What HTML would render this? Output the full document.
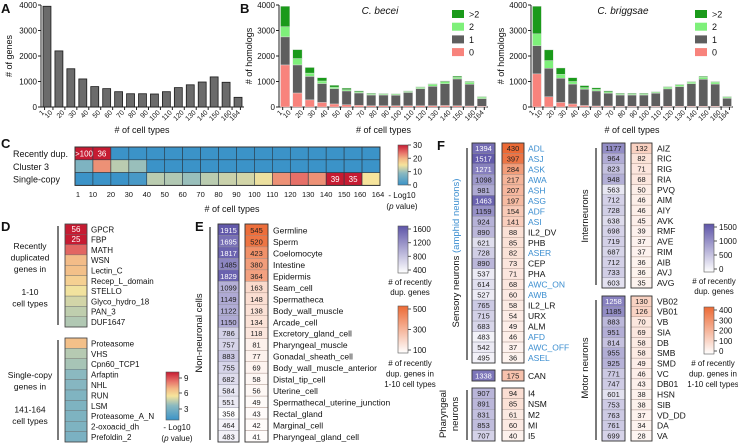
<!DOCTYPE html>
<html><head><meta charset="utf-8">
<style>
html,body{margin:0;padding:0;background:#fff}
svg{display:block;font-family:"Liberation Sans",Arial,sans-serif}
</style></head>
<body>
<svg id="fig" width="738" height="444" viewBox="0 0 738 444" xmlns="http://www.w3.org/2000/svg">
<defs>
<linearGradient id="gRdBu" x1="0" y1="1" x2="0" y2="0">
<stop offset="0" stop-color="#3b93c8"/><stop offset="0.3" stop-color="#8bb9c0"/><stop offset="0.5" stop-color="#f6e49c"/><stop offset="0.65" stop-color="#f3b986"/><stop offset="0.8" stop-color="#e8756b"/><stop offset="1" stop-color="#c61b32"/>
</linearGradient>
<linearGradient id="gPur" x1="0" y1="1" x2="0" y2="0"><stop offset="0" stop-color="#ffffff"/><stop offset="1" stop-color="#5e55a8"/></linearGradient>
<linearGradient id="gOra" x1="0" y1="1" x2="0" y2="0"><stop offset="0" stop-color="#ffffff"/><stop offset="1" stop-color="#ec6a35"/></linearGradient>
</defs>
<g id="root"></g>
</svg>
<script>
// ---- data ----
const cellTypeLabels = ["1","10","20","30","40","50","60","70","80","90","100","110","120","130","140","150","160","164"];
const barCats = ["1","10","20","30","40","50","60","70","80","90","100","110","120","130","140","150","160","164"];
const genesA = [3950,2200,1500,1100,800,720,600,520,520,510,600,760,870,980,1180,970,380];
const beceiZero = [1650,550,280,180,120,90,70,50,50,50,50,50,50,60,50,40,30];
const beceiOne  = [1100,1100,920,740,600,540,480,420,420,410,520,670,760,850,1050,850,300];
const beceiTwo  = [400,250,130,100,60,50,40,40,40,40,40,50,80,80,60,80,60];
const beceiMore = [800,350,220,130,70,60,40,30,20,20,20,20,20,30,50,30,20];
const brigZero = [1300,400,180,120,60,40,40,30,30,30,30,30,30,30,30,30,20];
const brigOne  = [1100,1120,950,780,640,590,500,440,440,440,510,680,770,880,1060,870,320];
const brigTwo  = [470,300,150,100,60,60,50,40,40,40,40,70,70,70,80,80,50];
const brigMore = [1080,420,250,150,80,60,40,30,30,30,20,20,20,20,30,20,20];
const yTicksA = [0,1000,2000,3000,4000];
const cRows = ["Recently dup.","Cluster 3","Single-copy"];
const cRecent = [99,36,0,0,0,0,0,0,0,0,0,0,0,0,0,0,0];
const cCluster = [2.5,7.5,4,3.3,0,0,0,0,0,0,0,0,0,0,0,0,0];
const cSingle = [0,0,0,0.5,4,3.8,3.3,4,4.3,4.5,5,7.5,8.3,7.5,39,35,5.2];
const cLabelsRecent = [">100","36","","","","","","","","","","","","","","",""];
const cLabelsSingle = ["","","","","","","","","","","","","","","39","35",""];
const dTop = ["GPCR","FBP","MATH","WSN","Lectin_C","Recep_L_domain","STELLO","Glyco_hydro_18","PAN_3","DUF1647"];
const dTopVal = [56,25,8.5,6.4,6.3,5.8,5.1,4.5,4.1,3.8];
const dBot = ["Proteasome","VHS","Cpn60_TCP1","Arfaptin","NHL","RUN","LSM","Proteasome_A_N","2-oxoacid_dh","Prefoldin_2"];
const dBotVal = [6.3,3.9,3.6,3.0,2.8,2.6,2.5,2.5,2.5,2.4];
const eNames = ["Germline","Sperm","Coelomocyte","Intestine","Epidermis","Seam_cell","Spermatheca","Body_wall_muscle","Arcade_cell","Excretory_gland_cell","Pharyngeal_muscle","Gonadal_sheath_cell","Body_wall_muscle_anterior","Distal_tip_cell","Uterine_cell","Spermathecal_uterine_junction","Rectal_gland","Marginal_cell","Pharyngeal_gland_cell"];
const eDup = [1915,1695,1817,1485,1829,1099,1149,1122,1150,786,757,883,755,682,584,551,358,464,483];
const eDup10 = [545,520,423,380,364,163,148,138,134,118,81,77,69,58,56,49,43,42,41];
const sensNames = ["ADL","ASJ","ASK","AWA","ASH","ASG","ADF","ASI","IL2_DV","PHB","ASER","CEP","PHA","AWC_ON","AWB","IL2_LR","URX","ALM","AFD","AWC_OFF","ASEL"];
const sensAmphid = [1,1,1,1,1,1,1,1,0,0,1,0,0,1,1,0,0,0,1,1,1];
const sensDup = [1394,1517,1271,1098,981,1463,1159,924,890,621,728,890,537,614,527,765,715,683,483,542,495];
const sensDup10 = [430,397,284,217,207,197,154,141,88,85,82,73,71,68,60,58,54,49,46,37,36];
const canDup = [1338]; const canDup10 = [175];
const pharNames = ["I4","NSM","M2","MI","I5"];
const pharDup = [907,891,831,853,707];
const pharDup10 = [94,85,61,60,40];
const interNames = ["AIZ","RIC","RIG","RIA","PVQ","AIM","AIY","AVK","RMF","AVE","RIM","AIB","AVJ","AVG"];
const interDup = [1177,964,823,948,563,712,728,638,698,719,687,712,733,603];
const interDup10 = [132,82,71,68,50,46,46,45,39,37,37,36,36,35];
const motorNames = ["VB02","VB01","VB","SIA","DB","SMB","SMD","VC","DB01","HSN","SIB","VD_DD","DA","VA"];
const motorDup = [1258,1185,883,951,814,955,925,771,747,601,753,763,761,699];
const motorDup10 = [130,126,70,69,58,58,49,46,43,38,38,37,34,28];

// ---- helpers ----
const NS="http://www.w3.org/2000/svg";
const root=document.getElementById('root');
function el(tag,attrs,parent){const e=document.createElementNS(NS,tag);for(const k in attrs)e.setAttribute(k,attrs[k]);(parent||root).appendChild(e);return e;}
function txt(x,y,s,size,parent,extra){const t=el('text',Object.assign({x:x,y:y,'font-size':size||8,fill:'#111'},extra||{}),parent);t.textContent=s;return t;}
function hex(h){return [parseInt(h.slice(1,3),16),parseInt(h.slice(3,5),16),parseInt(h.slice(5,7),16)];}
function lerpStops(stops,t){t=Math.max(0,Math.min(1,t));for(let i=1;i<stops.length;i++){if(t<=stops[i][0]){const a=stops[i-1],b=stops[i];const f=(t-a[0])/(b[0]-a[0]||1);const ca=hex(a[1]),cb=hex(b[1]);return 'rgb('+ca.map((v,j)=>Math.round(v+(cb[j]-v)*f)).join(',')+')';}}return stops[stops.length-1][1];}
const rdStops=[[0,'#3b93c8'],[0.3,'#8bb9c0'],[0.45,'#d2d5a8'],[0.52,'#f6e49c'],[0.65,'#f3b986'],[0.82,'#e8756b'],[1,'#c61b32']];
function rdColor(v){return lerpStops(rdStops,v/10);}
function purColor(v,lo,hi){return lerpStops([[0,'#ffffff'],[1,'#5e55a8']],(v-lo)/(hi-lo));}
function oraColor(v,lo,hi){return lerpStops([[0,'#ffffff'],[1,'#ec6a35']],(v-lo)/(hi-lo));}
function panelLetter(x,y,s){const t=txt(x,y,s,13,root,{'font-weight':'bold'});}

// ---- Panel A ----
panelLetter(1,13,'A');
(function(){
 const g=el('g',{});
 const x0=41,x1=244,y0=107,yTop=5,max=4000;
 const ys=v=>y0-(v/max)*(y0-yTop);
 const slot=(x1-x0)/genesA.length;
 el('line',{x1:x0,y1:yTop,x2:x0,y2:y0,stroke:'#222','stroke-width':1},g);
 el('line',{x1:x0,y1:y0,x2:x1,y2:y0,stroke:'#222','stroke-width':1},g);
 yTicksA.forEach(v=>{el('line',{x1:x0-3,y1:ys(v),x2:x0,y2:ys(v),stroke:'#222'},g);txt(x0-4,ys(v)+3,String(v),8,g,{'text-anchor':'end'});});
 genesA.forEach((v,i)=>{const r=el('rect',{x:x0+slot*i+2,y:ys(v),width:slot-4,height:y0-ys(v),fill:'#6b6b6b',stroke:'#1a1a1a','stroke-width':0.8},g);});
 cellTypeLabels.forEach((s,i)=>{const x=x0+slot*(i===0?0.3:(i===17?16.7:i));el('line',{x1:x,y1:y0,x2:x,y2:y0+3,stroke:'#222'},g);txt(x,y0+6,s,7,g,{'text-anchor':'end',transform:'rotate(-45 '+x+' '+(y0+6)+')'});});
 const yt=txt(12,56,'# of genes',9,g,{'text-anchor':'middle',transform:'rotate(-90 12 56)'});
 const xt=txt(142,133,'# of cell types',9,g,{'text-anchor':'middle'});
})();

// ---- Panel B ----
panelLetter(240,13,'B');
function stacked(name,x0,x1,title,titleX,legX,zero,one,two,more){
 const g=el('g',{});
 const y0=107,yTop=5,max=4000;const ys=v=>y0-(v/max)*(y0-yTop);const slot=(x1-x0)/zero.length;
 el('line',{x1:x0,y1:yTop,x2:x0,y2:y0,stroke:'#222'},g);el('line',{x1:x0,y1:y0,x2:x1,y2:y0,stroke:'#222'},g);
 yTicksA.forEach(v=>{el('line',{x1:x0-3,y1:ys(v),x2:x0,y2:ys(v),stroke:'#222'},g);txt(x0-4,ys(v)+3,String(v),8,g,{'text-anchor':'end'});});
 const series=[[zero,'#f8837c','0'],[one,'#5e5e5e','1'],[two,'#7ef07a','2'],[more,'#1a9a1a','more-than-2']];
 zero.forEach((_,i)=>{let acc=0;series.forEach(s=>{const v=s[0][i];const r=el('rect',{x:x0+slot*i+1.5,y:ys(acc+v),width:slot-3,height:ys(acc)-ys(acc+v),fill:s[1],stroke:'#e0e0e0','stroke-width':0.4},g);acc+=v;});});
 cellTypeLabels.forEach((s,i)=>{const x=x0+slot*(i===0?0.3:(i===17?16.7:i));el('line',{x1:x,y1:y0,x2:x,y2:y0+3,stroke:'#222'},g);txt(x,y0+6,s,7,g,{'text-anchor':'end',transform:'rotate(-45 '+x+' '+(y0+6)+')'});});
 txt(titleX,14,title,10,g,{'text-anchor':'middle','font-style':'italic'});
 txt(x0-27,56,'# of homologs',9,g,{'text-anchor':'middle',transform:'rotate(-90 '+(x0-27)+' 56)'});
 txt((x0+x1)/2,133,'# of cell types',9,g,{'text-anchor':'middle'});
 const leg=[['>2','#1a9a1a'],['2','#7ef07a'],['1','#5e5e5e'],['0','#f8837c']];
 leg.forEach((l,i)=>{const y=10+i*12.7;const r=el('rect',{x:legX,y:y,width:12,height:8,fill:l[1]},g);txt(legX+17,y+7.5,l[0],9,g);});
}
stacked('panel-b-becei-chart',279,488,'C. becei',380,452,beceiZero,beceiOne,beceiTwo,beceiMore);
stacked('panel-b-briggsae-chart',531,733,'C. briggsae',623,695,brigZero,brigOne,brigTwo,brigMore);

// ---- Panel C ----
panelLetter(1,148,'C');
(function(){
 const g=el('g',{});
 const x0=75,cw=(380-75)/17,y0=147,rh=12.8;
 const rows=[[cRecent,cLabelsRecent],[cCluster,null],[cSingle,cLabelsSingle]];
 rows.forEach((r,ri)=>{
  txt(13,y0+rh*ri+10,cRows[ri],9,g);
  r[0].forEach((v,ci)=>{const c=el('rect',{x:x0+cw*ci,y:y0+rh*ri,width:cw,height:rh,fill:rdColor(v),stroke:'#2a3a46','stroke-width':0.6},g);
   if(r[1]&&r[1][ci])txt(x0+cw*ci+cw/2,y0+rh*ri+9.5,r[1][ci],8,g,{'text-anchor':'middle',fill:'#fff'});});
 });
 el('rect',{x:x0,y:y0,width:cw*17,height:rh*3,fill:'none',stroke:'#333','stroke-width':1},g);
 cellTypeLabels.forEach((s,i)=>{const x=i===0?x0+3:(i===17?x0+cw*17-2:(i===16?x0+cw*16-2:x0+cw*i));txt(x,197,s,7.5,g,{'text-anchor':'middle'});});
 txt(232,212,'# of cell types',9,g,{'text-anchor':'middle'});
 el('rect',{x:398,y:145,width:10,height:40,fill:'url(#gRdBu)',stroke:'#555','stroke-width':0.6},g);
 ['30','20','10','0'].forEach((s,i)=>{const y=145+i*13.3;el('line',{x1:408,y1:y,x2:411,y2:y,stroke:'#555'},g);txt(413,y+3,s,8,g);});
 txt(402,198,'- Log10',8,g,{'text-anchor':'middle'});
 const pv=txt(402,209,'',8,g,{'text-anchor':'middle'});pv.innerHTML='(<tspan font-style="italic">p</tspan> value)';
})();

// ---- Panel D ----
panelLetter(1,231,'D');
(function(){
 const g=el('g',{});
 const x0=65,w=22;
 function block(names,vals,y0,y1,showNum){const rh=(y1-y0)/names.length;
  names.forEach((n,i)=>{const c=el('rect',{x:x0,y:y0+rh*i,width:w,height:rh,fill:rdColor(vals[i]),stroke:'#6a6a6a','stroke-width':0.4},g);
   if(showNum&&vals[i]>10)txt(x0+w/2,y0+rh*i+rh-2.5,String(vals[i]),8,g,{'text-anchor':'middle',fill:'#fff'});
   txt(x0+w+4,y0+rh*i+rh-2,n,8,g);});
  el('rect',{x:x0,y:y0,width:w,height:y1-y0,fill:'none',stroke:'#444','stroke-width':0.8},g);
  el('line',{x1:58,y1:y0+2,x2:58,y2:y1-2,stroke:'#222','stroke-width':1.2},g);}
 block(dTop,dTopVal,224,327,true);block(dBot,dBotVal,338,442,false);
 ['Recently','duplicated','genes in','','1-10','cell types'].forEach((s,i)=>txt(30,249+i*11.5,s,8.5,g,{'text-anchor':'middle'}));
 ['Single-copy','genes in','','141-164','cell types'].forEach((s,i)=>txt(30,378+i*11.5,s,8.5,g,{'text-anchor':'middle'}));
 el('rect',{x:166,y:372,width:13,height:48,fill:'url(#gRdBu)',stroke:'#555','stroke-width':0.6},g);
 [['9',378],['6',393],['3',409]].forEach(a=>{el('line',{x1:179,y1:a[1],x2:182,y2:a[1],stroke:'#555'},g);txt(184,a[1]+3,a[0],8,g);});
 txt(177,430,'- Log10',8,g,{'text-anchor':'middle'});
 const pv=txt(177,441,'',8,g,{'text-anchor':'middle'});pv.innerHTML='(<tspan font-style="italic">p</tspan> value)';
})();

// ---- double heatmap helper ----
function dual(g,names,a,b,y0,y1,px,pw,ox,ow,lx,plo,phi,olo,ohi,blue){
 const rh=(y1-y0)/names.length;
 names.forEach((n,i)=>{const y=y0+rh*i;
  const c1=el('rect',{x:px,y:y,width:pw,height:rh,fill:purColor(a[i],plo,phi),stroke:'#8d8d9a','stroke-width':0.4},g);
  txt(px+pw/2,y+rh-2.5,String(a[i]),7.5,g,{'text-anchor':'middle',fill:(a[i]-plo)/(phi-plo)>0.72?'#fff':'#222'});
  const c2=el('rect',{x:ox,y:y,width:ow,height:rh,fill:oraColor(b[i],olo,ohi),stroke:'#a08a80','stroke-width':0.4},g);
  txt(ox+ow/2,y+rh-2.5,String(b[i]),7.5,g,{'text-anchor':'middle',fill:'#222'});
  txt(lx,y+rh-2,n,8.5,g,{fill:(blue&&blue[i])?'#3b8ed0':'#111'});
 });
 el('rect',{x:px,y:y0,width:pw,height:y1-y0,fill:'none',stroke:'#333','stroke-width':0.9},g);
 el('rect',{x:ox,y:y0,width:ow,height:y1-y0,fill:'none',stroke:'#333','stroke-width':0.9},g);
}
function colorbar(g,x,y,h,grad,labels){
 el('rect',{x:x,y:y,width:10,height:h,fill:'url(#'+grad+')',stroke:'#555','stroke-width':0.6},g);
 labels.forEach((s,i)=>{const yy=y+3+i*(h-6)/(labels.length-1);el('line',{x1:x+10,y1:yy,x2:x+13,y2:yy,stroke:'#555'},g);txt(x+15,yy+3,s,8,g);});
}

// ---- Panel E ----
panelLetter(195,231,'E');
(function(){
 const g=el('g',{});
 dual(g,eNames,eDup,eDup10,224,442,218,21,245,23,273,350,1950,30,560,null);
 el('line',{x1:210,y1:227,x2:210,y2:440,stroke:'#222','stroke-width':1.2},g);
 txt(202,333,'Non-neuronal cells',9.5,g,{'text-anchor':'middle',transform:'rotate(-90 202 333)'});
 colorbar(g,398,226,47,'gPur',['1600','1200','800','400']);
 txt(410,285,'# of recently',8,g,{'text-anchor':'middle'});txt(410,295,'dup. genes',8,g,{'text-anchor':'middle'});
 colorbar(g,398,306,47,'gOra',['500','300','100']);
 ['# of recently','dup. genes in','1-10 cell types'].forEach((s,i)=>txt(410,366+i*10.5,s,8,g,{'text-anchor':'middle'}));
})();

// ---- Panel F ----
panelLetter(437,150,'F');
(function(){
 const g=el('g',{});
 dual(g,sensNames,sensDup,sensDup10,143,363,472,23,502,22,528,400,1560,0,430,sensAmphid);
 dual(g,['CAN'],canDup,canDup10,370,381,472,23,502,22,528,400,1560,0,430,null);
 dual(g,pharNames,pharDup,pharDup10,388,441,472,23,502,22,528,400,1560,0,430,null);
 dual(g,interNames,interDup,interDup10,143,288,602,23,631,21,657,400,1560,0,430,null);
 dual(g,motorNames,motorDup,motorDup10,296,441,602,23,631,21,657,400,1560,0,430,null);
 el('line',{x1:467,y1:148,x2:467,y2:360,stroke:'#222','stroke-width':1.2},g);
 el('line',{x1:467,y1:390,x2:467,y2:440,stroke:'#222','stroke-width':1.2},g);
 el('line',{x1:596,y1:148,x2:596,y2:285,stroke:'#222','stroke-width':1.2},g);
 el('line',{x1:596,y1:300,x2:596,y2:440,stroke:'#222','stroke-width':1.2},g);
 const s=txt(459,253,'',9.5,g,{'text-anchor':'middle',transform:'rotate(-90 459 253)'});s.innerHTML='Sensory neurons <tspan fill="#3b8ed0">(amphid neurons)</tspan>';
 txt(446,414,'Pharyngeal',9.5,g,{'text-anchor':'middle',transform:'rotate(-90 446 414)'});
 txt(458,414,'neurons',9.5,g,{'text-anchor':'middle',transform:'rotate(-90 458 414)'});
 txt(588,216,'Interneurons',9.5,g,{'text-anchor':'middle',transform:'rotate(-90 588 216)'});
 txt(588,368,'Motor neurons',9.5,g,{'text-anchor':'middle',transform:'rotate(-90 588 368)'});
 colorbar(g,704,224,48,'gPur',['1500','1000','500','0']);
 txt(714,284,'# of recently',8,g,{'text-anchor':'middle'});txt(714,294,'dup. genes',8,g,{'text-anchor':'middle'});
 colorbar(g,704,307,47,'gOra',['400','300','200','100','0']);
 ['# of recently','dup. genes in','1-10 cell types'].forEach((s,i)=>txt(713,366+i*10.5,s,8,g,{'text-anchor':'middle'}));
})();
</script>
</body></html>
